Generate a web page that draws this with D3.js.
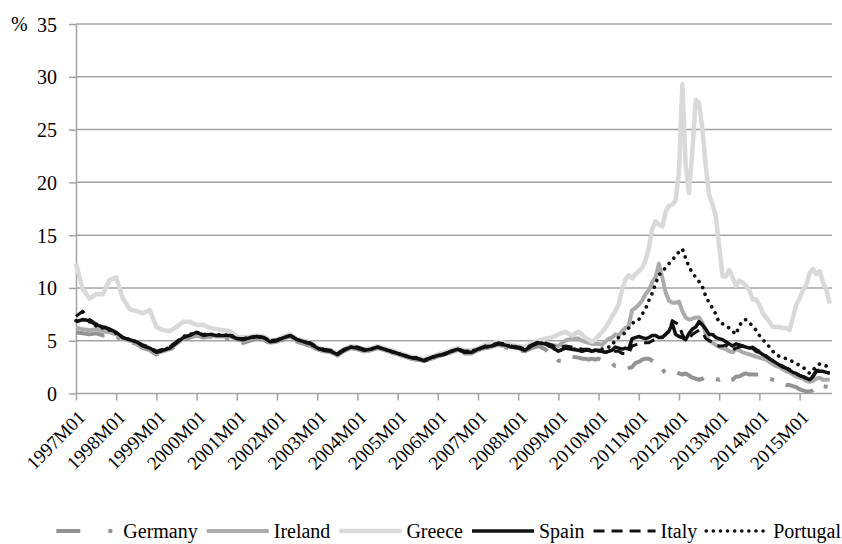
<!DOCTYPE html>
<html><head><meta charset="utf-8">
<script src="https://cdn.jsdelivr.net/npm/d3@7"></script>
</head><body style="margin:0;background:#fff">
<svg id="chart" width="842" height="544"></svg>
<script>
// ---------- categories ----------
const startYear = 1997, nMonths = 226;   // 1997M01 .. 2015M10
const months = d3.range(nMonths).map(i => `${startYear + Math.floor(i / 12)}M${String(i % 12 + 1).padStart(2, "0")}`);
const sampleMonths = [...d3.range(0, 150, 2), ...d3.range(150, 226)].map(i => months[i]);
const tickLabels = months.filter(m => m.endsWith("M01"));
const yTicks = [0, 5, 10, 15, 20, 25, 30, 35];

// ---------- series values (%) ----------
const germany = [
5.8,5.7,5.6,5.7,5.5,5.6,5.4,5.0,4.9,4.7,4.3,4.1,3.7,3.9,4.1,4.6,5.1,5.3,5.5,5.3,5.4,5.3,5.2,5.2,4.9,4.8,5.0,5.2,5.1,4.7,4.8,5.1,5.3,4.9,4.7,4.5,4.2,4.0,3.9,3.6,4.0,4.3,4.2,4.0,4.1,4.3,4.1,3.9,3.7,3.5,3.3,3.2,3.1,3.3,3.5,3.7,3.9,4.1,3.8,3.8,4.1,4.3,4.4,4.5,4.4,4.2,4.1,4.0,4.3,4.5,4.2,3.6,3.1,3.1,3.5,
3.4,3.3,3.3,3.2,3.3,3.2,3.3,3.1,3.1,3.0,2.8,2.6,2.6,2.4,2.3,2.4,2.5,2.9,3.0,3.2,3.3,3.3,3.1,2.9,2.7,2.3,1.9,2.0,1.9,2.0,1.9,1.8,1.9,1.7,1.5,1.4,1.3,1.4,1.6,1.5,1.4,1.4,1.3,1.5,1.4,1.2,1.3,1.6,1.6,1.8,1.9,1.8,1.8,1.8,1.8,1.6,1.5,1.4,1.3,1.2,1.2,0.9,0.8,0.8,0.7,0.6,0.4,0.3,0.2,0.2,0.3,0.7,0.8,0.7,0.65,0.6];
const ireland = [
6.2,6.1,6.0,6.1,5.9,5.8,5.6,5.2,5.0,4.8,4.4,4.2,3.8,4.0,4.2,4.7,5.2,5.4,5.6,5.4,5.5,5.4,5.4,5.4,5.1,5.0,5.2,5.3,5.2,4.8,4.9,5.2,5.4,5.0,4.8,4.6,4.2,4.0,3.9,3.6,4.0,4.3,4.2,4.0,4.1,4.3,4.1,3.9,3.7,3.5,3.3,3.2,3.1,3.3,3.5,3.7,3.9,4.1,3.9,3.9,4.1,4.3,4.4,4.6,4.5,4.4,4.3,4.2,4.5,4.8,4.7,4.6,4.5,5.0,5.2,
5.2,5.0,4.9,4.8,4.7,4.7,4.7,4.6,4.9,5.2,5.3,5.6,5.5,5.9,6.2,6.4,7.9,8.1,8.4,8.8,9.4,9.8,10.5,11.0,12.3,11.0,9.6,8.8,8.6,8.6,8.7,7.8,7.2,7.0,7.1,7.2,7.2,6.7,5.6,5.0,4.8,4.6,4.4,4.3,4.2,4.0,3.9,4.2,4.1,3.9,3.8,3.7,3.6,3.5,3.4,3.3,3.2,3.0,2.8,2.6,2.5,2.3,2.1,2.0,1.8,1.6,1.5,1.4,1.2,1.1,1.2,1.4,1.5,1.3,1.3,1.3];
const greece = [
12.3,9.9,9.0,9.4,9.4,10.75,11.0,9.0,8.0,7.8,7.6,7.9,6.3,6.0,5.9,6.3,6.8,6.8,6.5,6.5,6.2,6.1,6.0,5.9,5.4,5.3,5.4,5.5,5.4,5.0,5.1,5.4,5.6,5.2,5.0,4.8,4.4,4.2,4.1,3.8,4.2,4.5,4.4,4.2,4.3,4.5,4.3,4.1,3.9,3.7,3.5,3.4,3.2,3.5,3.7,3.9,4.1,4.3,4.1,4.1,4.3,4.6,4.7,4.9,4.8,4.6,4.5,4.4,4.7,5.0,5.2,5.3,5.6,5.85,5.5,
5.85,5.6,5.3,5.1,4.9,5.1,5.5,5.8,6.2,6.7,7.3,7.8,8.5,9.8,10.8,11.2,10.9,11.3,11.6,11.9,12.6,13.8,15.6,16.3,16.0,15.8,17.2,17.8,17.9,18.3,21.0,29.3,21.5,19.0,23.0,27.8,27.5,25.0,21.5,18.8,17.9,16.8,14.0,11.1,11.1,11.7,11.0,10.2,10.7,10.5,10.2,9.8,8.9,8.9,8.4,7.6,7.2,6.8,6.3,6.3,6.3,6.2,6.2,6.0,7.2,8.4,9.0,9.8,10.3,11.4,11.8,11.3,11.6,10.5,9.8,8.5];
const spain = [
6.8,7.0,6.9,6.5,6.3,6.1,5.8,5.3,5.1,4.9,4.5,4.3,3.9,4.1,4.3,4.8,5.3,5.5,5.8,5.5,5.6,5.5,5.5,5.5,5.2,5.1,5.3,5.4,5.3,4.9,5.0,5.3,5.5,5.1,4.9,4.7,4.3,4.1,4.0,3.7,4.1,4.4,4.3,4.1,4.2,4.4,4.2,4.0,3.8,3.6,3.4,3.3,3.1,3.4,3.6,3.7,4.0,4.2,3.9,3.9,4.2,4.4,4.5,4.7,4.6,4.4,4.3,4.1,4.5,4.8,4.7,4.4,4.0,4.3,4.2,
4.1,4.0,4.1,4.1,4.0,4.1,4.1,4.0,3.9,4.0,4.1,4.4,4.3,4.2,4.3,4.2,5.2,5.3,5.4,5.3,5.2,5.3,5.5,5.5,5.3,5.3,5.6,5.9,6.6,5.6,5.4,5.3,5.1,5.7,6.1,6.3,6.8,6.5,6.1,5.6,5.6,5.3,5.2,5.1,4.9,4.7,4.5,4.7,4.6,4.5,4.4,4.3,4.3,4.0,3.9,3.7,3.5,3.3,3.1,2.9,2.7,2.5,2.4,2.2,2.0,1.9,1.7,1.6,1.45,1.3,1.6,2.1,2.1,2.1,2.0,1.95];
const italy = [
7.3,7.8,7.0,6.6,6.4,6.1,5.8,5.3,5.1,4.9,4.6,4.4,4.0,4.2,4.4,4.9,5.4,5.5,5.8,5.6,5.6,5.5,5.5,5.5,5.2,5.2,5.3,5.4,5.3,5.0,5.1,5.3,5.5,5.1,4.9,4.8,4.4,4.2,4.1,3.8,4.2,4.4,4.4,4.2,4.2,4.4,4.2,4.0,3.8,3.6,3.4,3.4,3.2,3.4,3.6,3.8,4.0,4.2,4.0,4.0,4.2,4.5,4.6,4.8,4.7,4.5,4.4,4.3,4.6,4.9,4.8,4.6,4.3,4.5,4.4,
4.3,4.2,4.2,4.2,4.1,4.1,4.0,4.0,3.9,3.9,4.1,4.0,4.0,3.8,3.8,3.8,4.5,4.6,4.7,4.8,4.8,4.8,5.0,5.1,5.4,5.3,5.6,5.9,6.9,6.7,6.5,5.6,5.0,5.2,5.6,5.8,6.0,5.8,5.2,5.0,4.9,4.6,4.5,4.5,4.6,4.3,4.1,4.3,4.4,4.5,4.4,4.3,4.4,4.2,4.0,3.8,3.6,3.3,3.1,2.9,2.8,2.6,2.4,2.3,2.1,1.9,1.7,1.6,1.4,1.35,1.7,2.2,2.2,2.1,2.0,1.9];
const portugal = [
6.9,7.0,6.8,6.4,6.2,6.0,5.7,5.3,5.1,4.9,4.5,4.3,3.9,4.1,4.4,4.9,5.4,5.6,5.8,5.6,5.6,5.6,5.5,5.6,5.2,5.2,5.3,5.4,5.3,5.0,5.0,5.3,5.5,5.1,4.9,4.7,4.3,4.1,4.0,3.7,4.1,4.4,4.3,4.1,4.2,4.4,4.2,4.0,3.8,3.6,3.4,3.3,3.1,3.4,3.6,3.7,4.0,4.2,4.0,4.0,4.2,4.4,4.5,4.7,4.6,4.5,4.4,4.2,4.5,4.8,4.7,4.4,4.0,4.3,4.2,
4.2,4.1,4.2,4.1,4.0,4.1,4.2,4.2,4.3,4.4,4.5,5.1,5.3,5.5,5.8,6.2,6.6,6.9,7.0,7.5,8.0,8.8,9.5,10.4,11.2,11.6,11.9,12.3,12.6,13.1,13.4,13.7,12.8,12.0,11.4,11.0,10.6,10.1,9.2,8.6,8.1,7.5,6.7,6.6,6.4,6.2,5.9,5.6,6.4,6.9,7.0,6.7,6.4,6.0,5.5,5.1,4.8,4.4,4.0,3.7,3.5,3.4,3.3,3.2,3.0,2.8,2.7,2.5,2.2,1.9,2.2,2.6,2.8,2.7,2.6,2.5];

// ---------- series styling ----------
const series = [
  {name: "Germany",  values: germany,  color: "#939393", width: 4,   dash: "29,13,4,13", cap: "butt",  legendDash: "24,28,4,200"},
  {name: "Ireland",  values: ireland,  color: "#ababab", width: 4,   dash: null,         cap: "butt"},
  {name: "Greece",   values: greece,   color: "#d9d9d9", width: 4.5, dash: null,         cap: "butt"},
  {name: "Spain",    values: spain,    color: "#111111", width: 3.5, dash: null,         cap: "butt"},
  {name: "Italy",    values: italy,    color: "#111111", width: 3,   dash: "11,7",       cap: "butt"},
  {name: "Portugal", values: portugal, color: "#111111", width: 3.6, dash: "0.1,7",      cap: "round"}
];

const FONT = "Liberation Serif";
const svg = d3.select("#chart");
const plot = {left: 76, right: 829.75, top: 24, bottom: 393.5, gridRight: 832};
const x = d3.scalePoint().domain(months).range([plot.left, plot.right]);
const y = d3.scaleLinear().domain([0, 35]).range([plot.bottom, plot.top]);
const axisColor = "#a3a3a3";

// gridlines
svg.append("g").selectAll("line").data(yTicks.filter(v => v > 0)).join("line")
  .attr("x1", plot.left).attr("x2", plot.gridRight)
  .attr("y1", d => y(d)).attr("y2", d => y(d))
  .attr("stroke", axisColor).attr("stroke-width", 1.5);

// y axis
const yAxis = svg.append("g").attr("transform", `translate(${plot.left},0)`)
  .call(d3.axisLeft(y).tickValues(yTicks).tickSize(7).tickPadding(12).tickSizeOuter(0));
yAxis.select(".domain").attr("stroke", axisColor).attr("stroke-width", 1.5);
yAxis.selectAll(".tick line").attr("stroke", axisColor).attr("stroke-width", 1.5);
yAxis.selectAll(".tick text").attr("dy", null).attr("y", 7).attr("font-size", 20).style("font-family", FONT);
svg.append("text").attr("x", 11).attr("y", y(35) + 7).attr("font-size", 20).style("font-family", FONT).text("%");

// x axis
const xAxis = svg.append("g").attr("transform", `translate(0,${plot.bottom})`)
  .call(d3.axisBottom(x).tickValues(tickLabels).tickSize(7).tickSizeOuter(0));
xAxis.select(".domain").attr("stroke", axisColor).attr("stroke-width", 1.5).attr("d", `M${plot.left},0H${plot.gridRight}`);
xAxis.selectAll(".tick line").attr("stroke", axisColor).attr("stroke-width", 1.5);
xAxis.selectAll(".tick text")
  .attr("font-size", 19).style("font-family", FONT)
  .attr("text-anchor", "end").attr("y", null).attr("dy", null)
  .attr("transform", "translate(10,25) rotate(-45)");

// lines
const line = d3.line().x(d => x(d.m)).y(d => y(d.v));
svg.append("g").selectAll("path").data(series).join("path")
  .attr("d", s => line(sampleMonths.map((m, i) => ({m, v: s.values[i]}))))
  .attr("fill", "none")
  .attr("stroke", s => s.color).attr("stroke-width", s => s.width)
  .attr("stroke-dasharray", s => s.dash)
  .attr("stroke-linecap", s => s.cap).attr("stroke-linejoin", "round");

// legend (right end aligned near the page edge)
const legend = svg.append("g");
const ly = 531, sampleLen = 62, gapIn = 5, gapOut = 9;
const items = series.map(s => {
  const g = legend.append("g");
  g.append("line").attr("x1", 0).attr("x2", sampleLen).attr("y1", ly).attr("y2", ly)
    .attr("stroke", s.color).attr("stroke-width", s.width)
    .attr("stroke-dasharray", s.legendDash || s.dash).attr("stroke-linecap", s.cap);
  const t = g.append("text").attr("x", sampleLen + gapIn).attr("y", ly + 7)
    .attr("font-size", 20).style("font-family", FONT).text(s.name);
  return {g, w: sampleLen + gapIn + t.node().getComputedTextLength()};
});
const total = d3.sum(items, d => d.w) + gapOut * (items.length - 1);
let lx = 841 - total;
items.forEach(it => { it.g.attr("transform", `translate(${lx},0)`); lx += it.w + gapOut; });
</script>
</body></html>
